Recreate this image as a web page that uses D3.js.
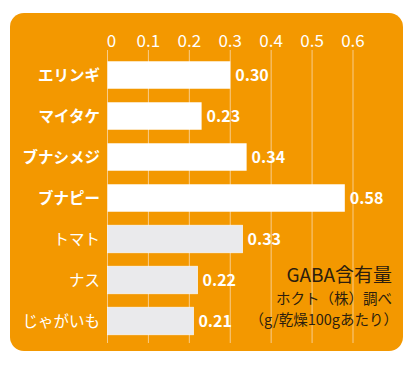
<!DOCTYPE html>
<html>
<head>
<meta charset="utf-8">
<script src="https://cdn.jsdelivr.net/npm/d3@7"></script>
<style>
  body { margin: 0; background: #fff; }
  text { font-family: "Noto Sans CJK JP", "Noto Sans", sans-serif; }
</style>
</head>
<body>
<script>
// data
const categories = ["エリンギ", "マイタケ", "ブナシメジ", "ブナピー", "トマト", "ナス", "じゃがいも"];
const values = [0.30, 0.23, 0.34, 0.58, 0.33, 0.22, 0.21];
const highlighted = [true, true, true, true, false, false, false];
const tickValues = [0, 0.1, 0.2, 0.3, 0.4, 0.5, 0.6];
const noteLines = ["GABA含有量", "ホクト（株）調べ", "（g/乾燥100gあたり）"];

const W = 410, H = 365;
const orange = "#F39800";

const svg = d3.select("body").append("svg")
  .attr("width", W)
  .attr("height", H);

// background panel
svg.append("rect")
  .attr("x", 10).attr("y", 13)
  .attr("width", 393).attr("height", 338)
  .attr("rx", 14)
  .attr("fill", orange);

const x = d3.scaleLinear().domain([0, 0.6]).range([107.5, 353]);
const y = d3.scaleBand().domain(categories).range([54.5, 341.5]).paddingInner(0.33).paddingOuter(0.165);

// gridlines
svg.append("g")
  .selectAll("line")
  .data(tickValues)
  .enter()
  .append("line")
  .attr("x1", d => x(d)).attr("x2", d => x(d))
  .attr("y1", 50).attr("y2", 343)
  .attr("stroke", "#F8CC8A")
  .attr("stroke-width", 1);

// tick labels (the 0 sits a little right of its line in the original)
svg.append("g")
  .selectAll("text")
  .data(tickValues)
  .enter()
  .append("text")
  .attr("x", d => x(d) + (d === 0 ? 4 : 0))
  .attr("y", 47)
  .attr("text-anchor", "middle")
  .attr("fill", "#fff")
  .attr("font-size", 17)
  .text(d => d);

// bars
svg.append("g")
  .selectAll("rect")
  .data(values)
  .enter()
  .append("rect")
  .attr("x", x(0))
  .attr("y", (d, i) => y(categories[i]))
  .attr("width", d => x(d) - x(0))
  .attr("height", y.bandwidth())
  .attr("fill", (d, i) => highlighted[i] ? "#fff" : "#EAEAEC")
  .attr("stroke", (d, i) => highlighted[i] ? "none" : "#F6F6F6")
  .attr("stroke-width", 0.8);

// category labels
svg.append("g")
  .selectAll("text")
  .data(categories)
  .enter()
  .append("text")
  .attr("x", 100)
  .attr("y", d => y(d) + y.bandwidth() / 2 + 6)
  .attr("text-anchor", "end")
  .attr("fill", "#fff")
  .attr("font-size", 15.5)
  .attr("font-weight", (d, i) => highlighted[i] ? "bold" : "normal")
  .text(d => d);

// value labels
svg.append("g")
  .selectAll("text")
  .data(values)
  .enter()
  .append("text")
  .attr("x", d => x(d) + 5)
  .attr("y", (d, i) => y(categories[i]) + y.bandwidth() / 2 + 6)
  .attr("fill", "#fff")
  .attr("font-size", 16)
  .attr("font-weight", "bold")
  .text(d => d.toFixed(2));

// note
const noteY = [282, 304, 325];
const noteSize = [19, 14.5, 14.5];
const noteX = [392, 392, 398];
svg.append("g")
  .selectAll("text")
  .data(noteLines)
  .enter()
  .append("text")
  .attr("x", (d, i) => noteX[i])
  .attr("y", (d, i) => noteY[i])
  .attr("text-anchor", "end")
  .attr("fill", "#2B1D0E")
  .attr("font-size", (d, i) => noteSize[i])
  .text(d => d);
</script>
</body>
</html>
